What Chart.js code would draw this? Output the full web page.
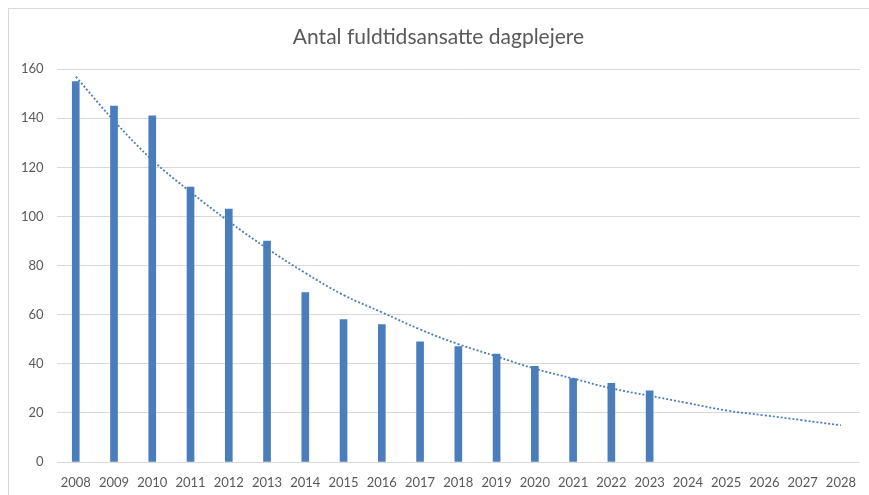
<!DOCTYPE html>
<html>
<head>
<meta charset="utf-8">
<script src="https://cdn.jsdelivr.net/npm/chart.js@4"></script>
<style>
  html, body { margin: 0; padding: 0; background: #fff; }
  #wrap { position: relative; width: 869px; height: 495px; }
  #frame {
    position: absolute; left: 8px; top: 8px; right: 0; bottom: 0;
    border-top: 1px solid #d9d9d9; border-left: 1px solid #d9d9d9;
  }
  canvas { position: absolute; left: 0; top: 0; }
</style>
</head>
<body>
<div id="wrap">
  <div id="frame"></div>
  <canvas id="chart" width="869" height="495"></canvas>
</div>
<script>
const years = [
  "2008", "2009", "2010", "2011", "2012", "2013", "2014",
  "2015", "2016", "2017", "2018", "2019", "2020", "2021",
  "2022", "2023", "2024", "2025", "2026", "2027", "2028",
];
// antal fuldtidsansatte (2024-2028 uden data)
const ansatte = [
  155, 145, 141, 112, 103, 90, 69, 58, 56, 49, 47, 44, 39, 34, 32, 29,
  null, null, null, null, null,
];
// trendlinje
const trend = [
  157, 139, 123, 110, 98, 87, 77, 68, 61, 54, 48, 43, 38, 34, 30, 27,
  24, 21, 19, 17, 15,
];
const yTicks = [0, 20, 40, 60, 80, 100, 120, 140, 160];

const BLUE = "#4a7dbb";
const GREY = "#595959";
const FONT = "Lato, 'Open Sans', sans-serif";

const ctx = document.getElementById("chart").getContext("2d");
new Chart(ctx, {
  type: "bar",
  data: {
    labels: years,
    datasets: [
      {
        type: "line",
        label: "Trend",
        data: trend,
        borderColor: BLUE,
        borderWidth: 1.8,
        borderDash: [2, 2],
        pointRadius: 0,
        tension: 0.4,
        fill: false,
        order: 0,
      },
      {
        label: "Antal",
        data: ansatte,
        backgroundColor: BLUE,
        barThickness: 7,
        order: 1,
      },
    ],
  },
  options: {
    responsive: false,
    animation: false,
    layout: { padding: { left: 8, right: 0, top: 0, bottom: 0 } },
    plugins: {
      legend: { display: false },
      tooltip: { enabled: false },
      title: {
        display: true,
        text: "Antal fuldtidsansatte dagplejere",
        color: GREY,
        font: { family: FONT, size: 21, weight: "normal" },
        padding: { top: 25, bottom: 19 },
      },
    },
    scales: {
      x: {
        grid: { display: false, drawTicks: false },
        border: { display: false },
        afterFit: (axis) => {
          axis.height = 33;
        },
        ticks: {
          color: GREY,
          font: { family: FONT, size: 13 },
          padding: 13,
          maxRotation: 0,
          autoSkip: false,
        },
      },
      y: {
        min: yTicks[0],
        max: yTicks[yTicks.length - 1],
        afterBuildTicks: (axis) => {
          axis.ticks = yTicks.map((v) => ({ value: v }));
        },
        grid: { color: "#d9d9d9", lineWidth: 1, drawTicks: false },
        border: { display: false },
        ticks: {
          color: GREY,
          font: { family: FONT, size: 13 },
          padding: 13,
        },
      },
    },
  },
});
</script>
</body>
</html>
